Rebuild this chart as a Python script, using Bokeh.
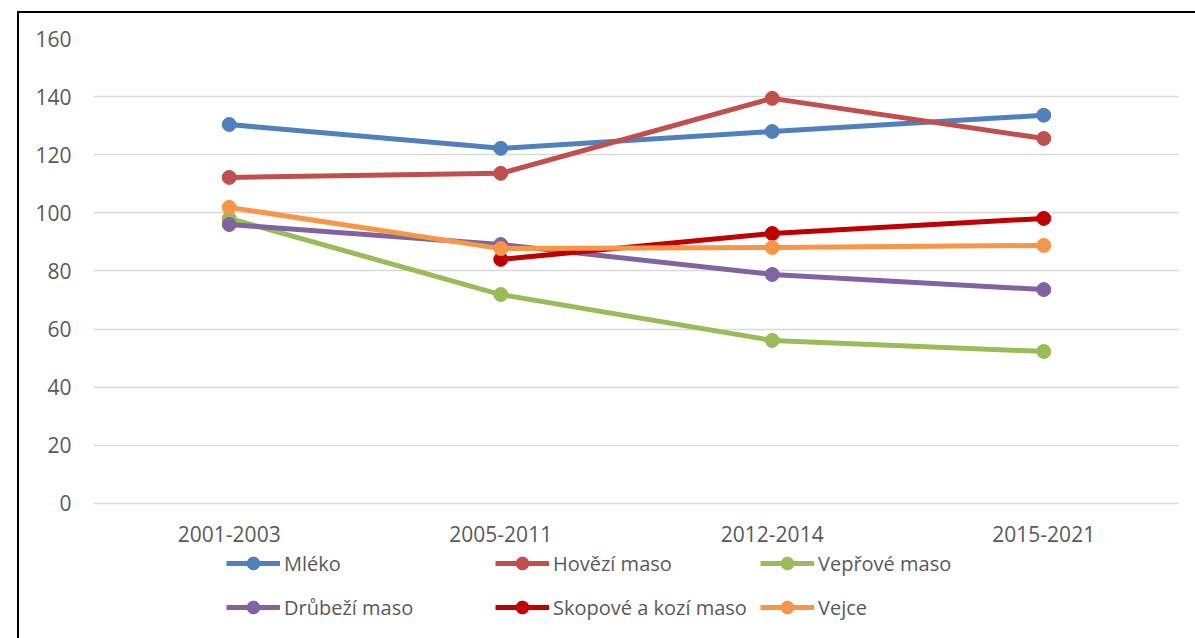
from bokeh.plotting import figure
from bokeh.models import FactorRange, FixedTicker, Legend, LegendItem, Range1d, InlineStyleSheet
from bokeh.layouts import column
from bokeh.embed import file_html
from bokeh.resources import INLINE
import math

NaN = float("nan")

categories = ["2001-2003", "2005-2011", "2012-2014", "2015-2021"]
series_names = ["Mléko", "Hovězí maso", "Vepřové maso", "Drůbeží maso", "Skopové a kozí maso", "Vejce"]
mleko = [130.4, 122.2, 128.0, 133.6]
hovezi = [112.2, 113.6, 139.4, 125.6]
veprove = [98.1, 71.9, 56.1, 52.3]
drubezi = [96.0, 89.1, 78.8, 73.6]
skopove = [NaN, 84.0, 92.9, 98.1]
vejce = [101.9, 87.7, 88.1, 88.8]
y_ticks = [0, 20, 40, 60, 80, 100, 120, 140, 160]

colors = ["#4F81BD", "#C0504D", "#9BBB59", "#8064A2", "#C00000", "#F79646"]
all_series = [mleko, hovezi, veprove, drubezi, skopove, vejce]

FONT = "Open Sans"
TXT = "#595959"
W = 1179
H1 = 518
H2 = 118
Y_MIN = -4.474   # small room below 0 so the "0" label is not clipped
Y_MAX = 160

xr = FactorRange(factors=categories)

p = figure(width=W, height=H1, x_range=xr, y_range=Range1d(Y_MIN, Y_MAX),
           output_backend="svg", toolbar_location=None, x_axis_location=None,
           min_border_left=93, min_border_top=38, min_border_bottom=2, min_border_right=0)
p.outline_line_color = None
p.xgrid.grid_line_color = None
p.ygrid.grid_line_color = "#D9D9D9"
p.ygrid.grid_line_width = 1.5

p.yaxis.ticker = FixedTicker(ticks=y_ticks)
p.yaxis.axis_line_color = None
p.yaxis.major_tick_line_color = None
p.yaxis.minor_tick_line_color = None
p.yaxis.major_tick_out = 0
p.yaxis.major_tick_in = 0
p.yaxis.major_label_text_font = FONT
p.yaxis.major_label_text_font_size = "21px"
p.yaxis.major_label_text_color = TXT
p.yaxis.major_label_standoff = 22


def draw_series(fig):
    out = []
    for name, vals, col in zip(series_names, all_series, colors):
        ln = fig.line(categories, vals, line_color=col, line_width=5)
        xs = [c for c, v in zip(categories, vals) if not math.isnan(v)]
        ys = [v for v in vals if not math.isnan(v)]
        sc = fig.scatter(xs, ys, size=14, fill_color=col, line_color=col, marker="circle")
        out.append((name, ln, sc))
    return out


draw_series(p)

# lower strip: category axis + legend (series drawn off-range, used only for legend glyphs)
p2 = figure(width=W, height=H2, x_range=xr, y_range=Range1d(1000, 1001),
            output_backend="svg", toolbar_location=None, x_axis_location="above", y_axis_type=None,
            min_border_left=0, min_border_right=0, min_border_top=29, min_border_bottom=0,
            margin=(-6, 0, 0, 0))
p2.outline_line_color = None
p2.border_fill_alpha = 0
p2.background_fill_alpha = 0
p2.grid.visible = False
ax = p2.xaxis[0]
ax.axis_line_color = None
ax.major_tick_line_color = None
ax.minor_tick_line_color = None
ax.major_tick_out = 0
ax.major_tick_in = 0
ax.major_label_text_font = FONT
ax.major_label_text_font_size = "21px"
ax.major_label_text_color = TXT
ax.major_label_standoff = 0

items = [LegendItem(label=name, renderers=[ln, sc]) for name, ln, sc in draw_series(p2)]

col_x = [133, 402, 667]
for ci in range(3):
    leg = Legend(items=[items[ci], items[ci + 3]], location=(col_x[ci], 7),
                 orientation="vertical", glyph_width=54, glyph_height=32,
                 label_height=20, label_standoff=4, spacing=12, padding=0, margin=0,
                 border_line_color=None, background_fill_alpha=0,
                 label_text_font=FONT, label_text_font_size="20px", label_text_color=TXT)
    p2.add_layout(leg, "center")

layout = column(p, p2, spacing=0)
layout.stylesheets = [InlineStyleSheet(css=""":host { position: relative; }
:host::after { content: ""; position: absolute; left: 17px; top: 11px; right: -16px; bottom: -8px;
border-left: 2px solid #000; border-top: 2px solid #000; pointer-events: none; z-index: 10; }""")]

open("out.html", "w").write(file_html(layout, INLINE))
